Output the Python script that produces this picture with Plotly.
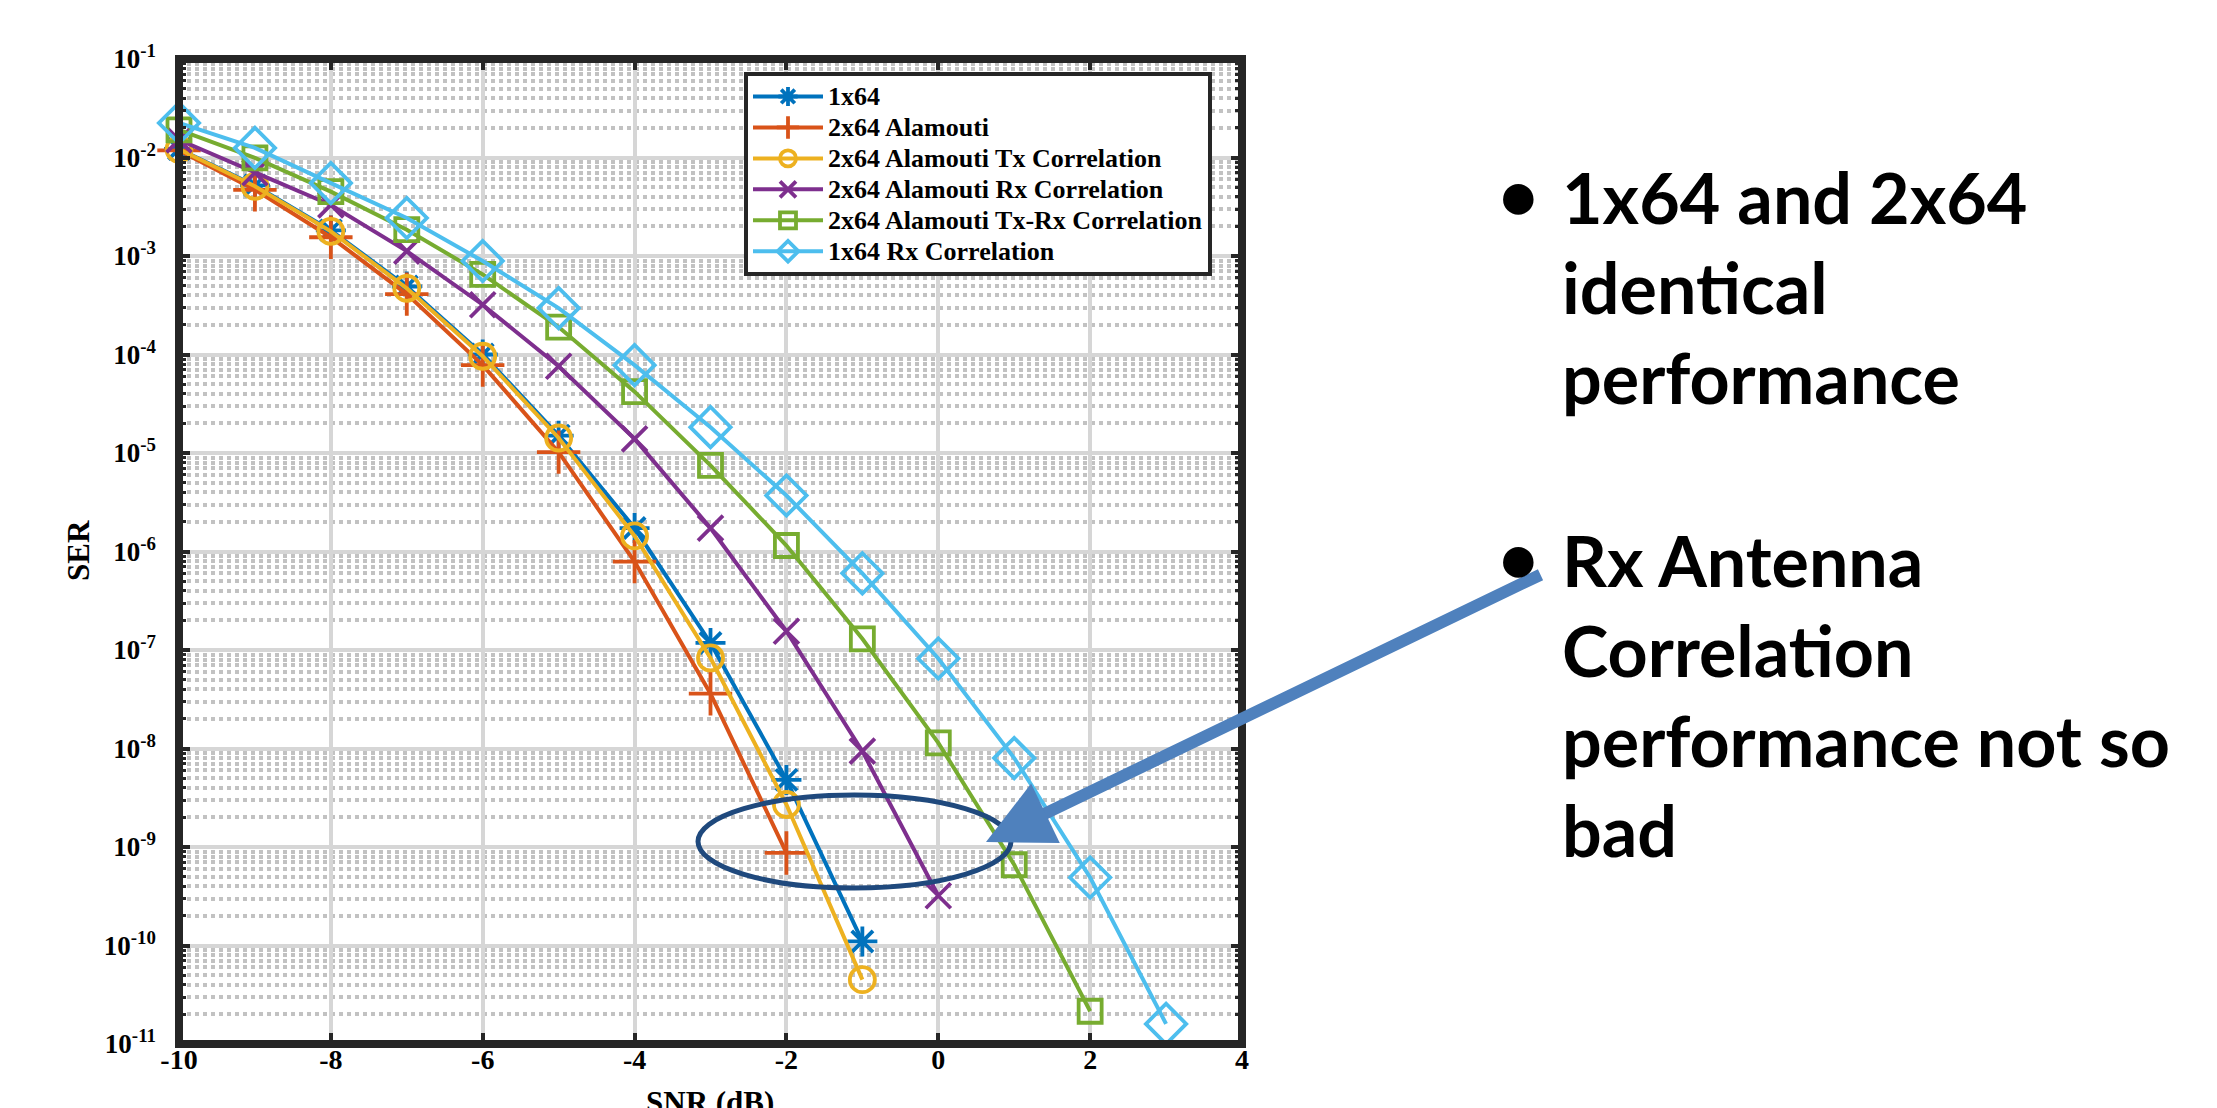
import plotly.graph_objects as go

# ---------------- data ----------------
snr = [-10, -9, -8, -7, -6, -5, -4, -3, -2, -1, 0, 1, 2, 3]

ser_1x64 = [0.0122, 5.2e-3, 1.82e-3, 4.9e-4, 1.0e-4, 1.5e-5, 1.73e-6, 1.18e-7, 4.8e-9, 1.1e-10]
ser_2x64_alamouti = [0.0118, 4.7e-3, 1.55e-3, 4.1e-4, 7.8e-5, 1.02e-5, 7.9e-7, 3.6e-8, 8.7e-10]
ser_tx_corr = [0.0121, 5.1e-3, 1.78e-3, 4.7e-4, 9.6e-5, 1.42e-5, 1.44e-6, 8.3e-8, 2.7e-9, 4.5e-11]
ser_rx_corr = [0.0151, 7.0e-3, 3.3e-3, 1.12e-3, 3.2e-4, 7.6e-5, 1.39e-5, 1.73e-6, 1.55e-7, 9.4e-9, 3.2e-10]
ser_txrx_corr = [0.0191, 9.9e-3, 4.5e-3, 1.85e-3, 6.5e-4, 1.9e-4, 4.2e-5, 7.5e-6, 1.15e-6, 1.3e-7,
                 1.14e-8, 6.6e-10, 2.15e-11]
ser_1x64_rx_corr = [0.0224, 0.0125, 5.5e-3, 2.43e-3, 8.9e-4, 2.96e-4, 7.8e-5, 1.83e-5, 3.7e-6, 6.0e-7,
                    8.2e-8, 8.0e-9, 4.9e-10, 1.6e-11]

series_names = ["1x64", "2x64 Alamouti", "2x64 Alamouti Tx Correlation",
                "2x64 Alamouti Rx Correlation", "2x64 Alamouti Tx-Rx Correlation",
                "1x64 Rx Correlation"]
series_values = [ser_1x64, ser_2x64_alamouti, ser_tx_corr, ser_rx_corr, ser_txrx_corr, ser_1x64_rx_corr]

x_ticks = [-10, -8, -6, -4, -2, 0, 2, 4]
y_exponents = [-1, -2, -3, -4, -5, -6, -7, -8, -9, -10, -11]

bullet1_lines = ["1x64 and 2x64", "identical", "performance"]
bullet2_lines = ["Rx Antenna", "Correlation", "performance not so", "bad"]

# ---------------- style ----------------
colors = ["#0072BD", "#D95319", "#EDB120", "#7E2F8E", "#77AC30", "#4DBEEE"]
symbols = ["asterisk-open", "cross-thin-open", "circle-open", "x-thin-open", "square-open", "diamond-open"]
sizes = [25, 31, 25, 25, 23, 31]

W, H = 2217, 1108
px_l, px_r, px_t, px_b = 171, 1234, 51, 1036

def px_x(p):
    return p / W

def px_y(p):
    return (H - p) / H

SERIF = "Liberation Serif"

fig = go.Figure()
for name, vals, c, s, sz in zip(series_names, series_values, colors, symbols, sizes):
    fig.add_trace(go.Scatter(
        x=snr[:len(vals)], y=vals,
        name='<span style="font-size:26px">%s</span>' % name,
        mode="lines+markers",
        line=dict(color=c, width=4),
        marker=dict(symbol=s, size=sz, color=c, line=dict(color=c, width=3.8)),
        cliponaxis=False,
    ))

fig.update_layout(
    width=W, height=H, autosize=False,
    margin=dict(l=0, r=0, t=0, b=0),
    paper_bgcolor="white", plot_bgcolor="white",
    showlegend=True,
    legend=dict(
        x=px_x(736), y=px_y(64), xanchor="left", yanchor="top",
        bgcolor="white", bordercolor="#262626", borderwidth=4,
        font=dict(family=SERIF, size=21.5, color="black", weight="bold"),
        itemwidth=70, tracegroupgap=0,
    ),
    xaxis=dict(
        domain=[px_x(px_l), px_x(px_r)], range=[-10, 4],
        tickvals=x_ticks, ticktext=[str(v) for v in x_ticks],
        showgrid=True, gridcolor="#d6d6d6", gridwidth=4,
        zeroline=False, showline=False, mirror="ticks",
        ticks="inside", ticklen=11, tickwidth=4, tickcolor="#262626",
        tickfont=dict(family=SERIF, size=28, color="black", weight="bold"),
        ticklabelstandoff=-4, automargin=False,
    ),
    yaxis=dict(
        domain=[px_y(px_b), px_y(px_t)], type="log", range=[-11, -1],
        tickvals=[10.0 ** e for e in y_exponents],
        ticktext=["10<sup>%d</sup>" % e for e in y_exponents],
        showgrid=True, gridcolor="#d6d6d6", gridwidth=4,
        zeroline=False, showline=False, mirror="ticks",
        ticks="inside", ticklen=11, tickwidth=4, tickcolor="#262626",
        tickfont=dict(family=SERIF, size=27, color="black", weight="bold"),
        ticklabelstandoff=22, automargin=False,
        minor=dict(ticks="inside", ticklen=7, tickwidth=3, tickcolor="#262626",
                   showgrid=True, gridcolor="#c2c2c2", gridwidth=4, griddash="dot",
                   dtick="D1"),
    ),
)

# axes frame
fig.add_shape(type="rect", xref="x domain", yref="y domain", x0=0, x1=1, y0=0, y1=1,
              line=dict(color="#262626", width=8), layer="above")

# axis titles
fig.add_annotation(text="SNR (dB)", xref="paper", yref="paper", x=px_x(702), y=px_y(1075),
                   xanchor="center", yanchor="top", showarrow=False,
                   font=dict(family=SERIF, size=31, color="black", weight="bold"))
fig.add_annotation(text="SER", xref="paper", yref="paper", x=px_x(70), y=px_y(543),
                   xanchor="center", yanchor="middle", showarrow=False, textangle=-90,
                   font=dict(family=SERIF, size=31, color="black", weight="bold"))

# highlight ellipse
fig.add_shape(type="circle", xref="paper", yref="paper",
              x0=px_x(690), x1=px_x(1003), y0=px_y(880), y1=px_y(787),
              line=dict(color="#1F497D", width=5), layer="above")

# arrow
fig.add_annotation(text="", xref="paper", yref="paper", x=px_x(978), y=px_y(834),
                   ax=1534 - 978, ay=566 - 834, axref="pixel", ayref="pixel",
                   showarrow=True, arrowhead=2, arrowsize=1.1, arrowwidth=12,
                   arrowcolor="#4F81BD")

# bullet texts
SANS = "Lato"
txt_font = dict(family=SANS, size=70, color="black", weight="bold")
line_gap = 90
for block, y0 in ((bullet1_lines, 189), (bullet2_lines, 552)):
    fig.add_annotation(text="•", xref="paper", yref="paper", x=px_x(1510), y=px_y(y0 - 4),
                       xanchor="center", yanchor="middle", showarrow=False, font=txt_font)
    for i, line in enumerate(block):
        fig.add_annotation(text=line, xref="paper", yref="paper", x=px_x(1552),
                           y=px_y(y0 + i * line_gap), xanchor="left", yanchor="middle",
                           showarrow=False, font=txt_font)

fig.write_html("out.html")
